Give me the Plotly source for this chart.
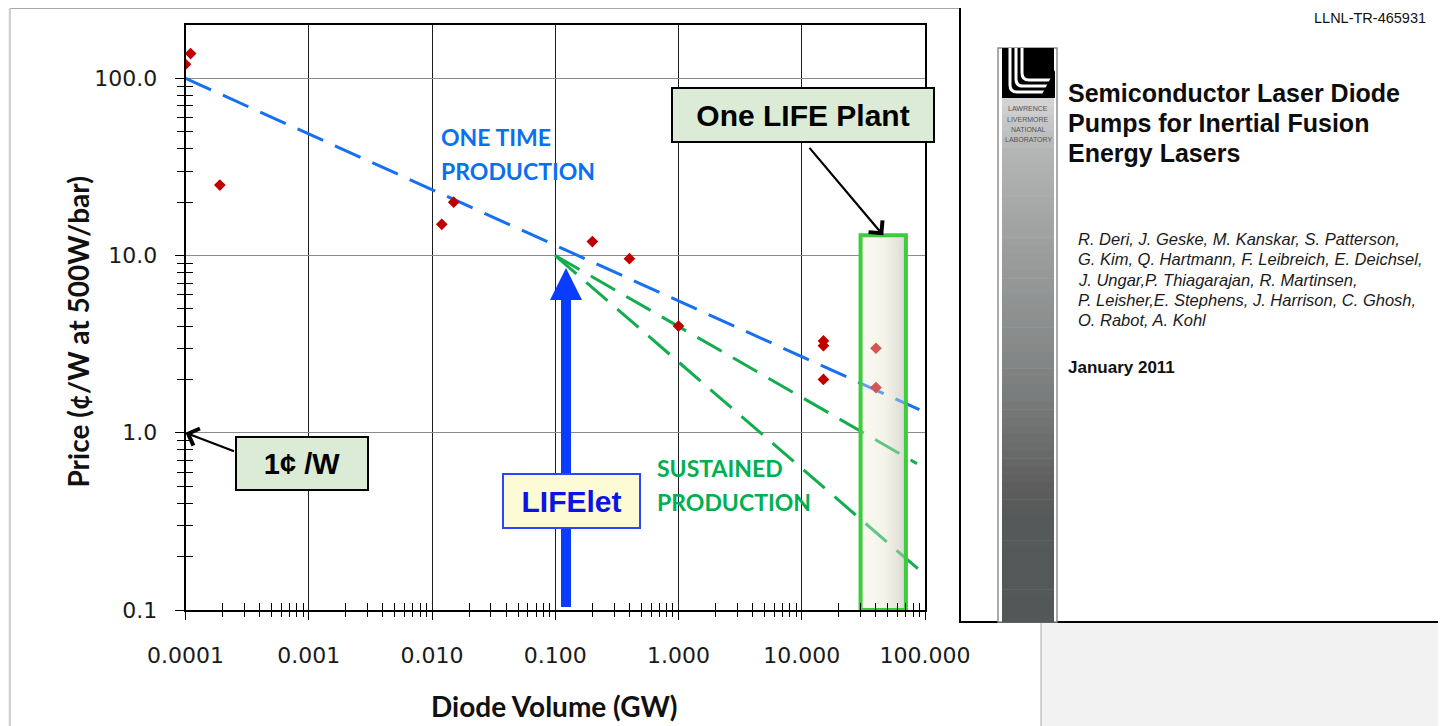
import numpy as np
import plotly.graph_objects as go

# ---------------- data ----------------
VOLUME_GW = [0.0001, 0.00011, 0.00019, 0.012, 0.015, 0.2, 0.4, 1.0, 15, 15, 15, 40, 40]
PRICE_C_PER_W = [120, 138, 25, 15, 20, 12, 9.6, 4.0, 3.3, 3.1, 2.0, 3.0, 1.8]

ONE_TIME_GW = [0.0001, 90]
ONE_TIME_PRICE = [100, 1.35]
SUSTAINED_SLOW_GW = [0.1, 86]
SUSTAINED_SLOW_PRICE = [10, 0.67]
SUSTAINED_FAST_GW = [0.1, 100]
SUSTAINED_FAST_PRICE = [10, 0.158]

PLANT_GW = [30, 70]
PLANT_PRICE = [0.1, 13]

X_TICK_VALS = [0.0001, 0.001, 0.01, 0.1, 1, 10, 100]
X_TICK_TEXT = ["0.0001", "0.001", "0.010", "0.100", "1.000", "10.000", "100.000"]
Y_TICK_VALS = [0.1, 1, 10, 100]
Y_TICK_TEXT = ["0.1", "1.0", "10.0", "100.0"]

REPORT_ID = "LLNL-TR-465931"
REPORT_TITLE = ["Semiconductor Laser Diode", "Pumps for Inertial Fusion", "Energy Lasers"]
REPORT_AUTHORS = [
    "R. Deri, J. Geske, M. Kanskar, S. Patterson,",
    "G. Kim, Q. Hartmann, F. Leibreich, E. Deichsel,",
    "J. Ungar,P. Thiagarajan, R. Martinsen,",
    "P. Leisher,E. Stephens, J. Harrison, C. Ghosh,",
    "O. Rabot, A. Kohl",
]
REPORT_DATE = "January 2011"
LAB_NAME = ["LAWRENCE", "LIVERMORE", "NATIONAL", "LABORATORY"]

# ---------------- layout helpers ----------------
# the page body adds an 8px margin, so the figure is drawn 8px smaller and
# all screen positions are shifted by that amount
OFF = 8
W, H = 1446 - OFF, 726 - OFF
PLOT_L, PLOT_R, PLOT_T, PLOT_B = 185.5, 925.0, 25.0, 610.0


def px(x):
    return (x - OFF) / W


def py(y):
    return 1 - (y - OFF) / H


BLUE = "#1670f0"
GREEN = "#12ad4c"
RED = "#c00000"
LABEL_FONT = "Lato, Open Sans, sans-serif"
ARIAL = "Liberation Sans, Arial, sans-serif"
TICK_FONT = "DejaVu Sans, Liberation Sans, sans-serif"

x_minor = [m * 10.0 ** k for k in range(-4, 2) for m in range(2, 10)]
y_minor = [m * 10.0 ** k for k in range(-1, 2) for m in range(2, 10)]

fig = go.Figure()

box_x = [PLANT_GW[0], PLANT_GW[1], PLANT_GW[1], PLANT_GW[0], PLANT_GW[0]]
box_y = [PLANT_PRICE[0], PLANT_PRICE[0], PLANT_PRICE[1], PLANT_PRICE[1], PLANT_PRICE[0]]

# opaque base of the "one plant" column (hides the grid)
fig.add_trace(go.Scatter(
    x=box_x, y=box_y, mode="none", fill="toself",
    fillgradient=dict(type="horizontal",
                      colorscale=[[0, "rgb(251,251,243)"], [0.55, "rgb(243,243,233)"],
                                  [1, "rgb(218,218,210)"]]),
    hoverinfo="skip", showlegend=False))

fig.add_trace(go.Scatter(x=ONE_TIME_GW, y=ONE_TIME_PRICE, mode="lines",
                         line=dict(color=BLUE, width=3, dash="28px,13px"),
                         hoverinfo="skip", showlegend=False))
fig.add_trace(go.Scatter(x=SUSTAINED_SLOW_GW, y=SUSTAINED_SLOW_PRICE, mode="lines",
                         line=dict(color=GREEN, width=3, dash="28px,13px"),
                         hoverinfo="skip", showlegend=False))
fig.add_trace(go.Scatter(x=SUSTAINED_FAST_GW, y=SUSTAINED_FAST_PRICE, mode="lines",
                         line=dict(color=GREEN, width=3, dash="28px,13px"),
                         hoverinfo="skip", showlegend=False))
fig.add_trace(go.Scatter(x=VOLUME_GW, y=PRICE_C_PER_W, mode="markers",
                         marker=dict(symbol="diamond", size=9, color=RED, line=dict(width=0)),
                         hoverinfo="skip", showlegend=False))

# translucent veil of the column over lines and points
fig.add_trace(go.Scatter(
    x=box_x, y=box_y, mode="none", fill="toself",
    fillgradient=dict(type="horizontal",
                      colorscale=[[0, "rgba(251,251,243,0.35)"], [0.55, "rgba(243,243,233,0.35)"],
                                  [1, "rgba(218,218,210,0.45)"]]),
    hoverinfo="skip", showlegend=False))
fig.add_trace(go.Scatter(x=box_x, y=box_y, mode="lines",
                         line=dict(color="#3ccc3c", width=4),
                         hoverinfo="skip", showlegend=False))

# empty trace on overlay axes (used for the inner half of the crossing minor ticks)
fig.add_trace(go.Scatter(x=[], y=[], xaxis="x2", yaxis="y2", showlegend=False))

x_dom = [px(PLOT_L), px(PLOT_R)]
y_dom = [py(PLOT_B), py(PLOT_T)]
x_range = [-4, 2]
y_range = [-1, float(np.log10(200))]

fig.update_layout(
    width=W, height=H, autosize=False,
    margin=dict(l=0, r=0, t=0, b=0, pad=0, autoexpand=False),
    paper_bgcolor="#f2f2f2", plot_bgcolor="white",
    showlegend=False, hovermode=False,
    xaxis=dict(type="log", range=x_range, domain=x_dom, anchor="y", automargin=False,
               showline=True, linecolor="black", linewidth=1.5, mirror=True,
               showgrid=True, gridcolor="#1e1e1e", gridwidth=1, zeroline=False,
               tickmode="array", tickvals=X_TICK_VALS, ticktext=X_TICK_TEXT,
               ticks="outside", ticklen=8, tickwidth=1.3, tickcolor="black",
               minor=dict(tickmode="array", tickvals=x_minor, ticks="outside", ticklen=5,
                          tickwidth=1.2, tickcolor="black", showgrid=False),
               tickfont=dict(family=TICK_FONT, size=22, color="#1a1a1a"),
               ticklabelstandoff=17, fixedrange=True),
    yaxis=dict(type="log", range=y_range, domain=y_dom, anchor="x", automargin=False,
               showline=True, linecolor="black", linewidth=1.5, mirror=True,
               showgrid=True, gridcolor="#8a8a8a", gridwidth=1, zeroline=False,
               tickmode="array", tickvals=Y_TICK_VALS, ticktext=Y_TICK_TEXT,
               ticks="outside", ticklen=9, tickwidth=1.3, tickcolor="black",
               minor=dict(tickmode="array", tickvals=y_minor, ticks="outside", ticklen=7,
                          tickwidth=1.2, tickcolor="black", showgrid=False),
               tickfont=dict(family=TICK_FONT, size=22, color="#1a1a1a"),
               ticklabelstandoff=13, fixedrange=True),
    xaxis2=dict(type="log", range=x_range, overlaying="x", anchor="y2", automargin=False,
                showline=False, showgrid=False, zeroline=False, showticklabels=False,
                tickmode="array", tickvals=X_TICK_VALS, ticks="",
                minor=dict(tickmode="array", tickvals=x_minor, ticks="inside", ticklen=7,
                           tickwidth=1.2, tickcolor="black", showgrid=False),
                fixedrange=True),
    yaxis2=dict(type="log", range=y_range, overlaying="y", anchor="x2", automargin=False,
                showline=False, showgrid=False, zeroline=False, showticklabels=False,
                tickmode="array", tickvals=Y_TICK_VALS, ticks="",
                minor=dict(tickmode="array", tickvals=y_minor, ticks="inside", ticklen=7,
                           tickwidth=1.2, tickcolor="black", showgrid=False),
                fixedrange=True),
)

shapes = []
# slide background
shapes.append(dict(type="rect", xref="paper", yref="paper", layer="below",
                   x0=px(10), x1=px(1041), y0=py(760), y1=py(8.5),
                   fillcolor="white", line=dict(color="#a8a8a8", width=1)))

# LIFElet arrow
arrow_path = (f"M{px(561)},{py(607)} L{px(571)},{py(607)} L{px(571)},{py(300)} "
              f"L{px(582)},{py(300)} L{px(566)},{py(268)} L{px(550)},{py(300)} "
              f"L{px(561)},{py(300)} Z")
shapes.append(dict(type="path", xref="paper", yref="paper", layer="above", path=arrow_path,
                   fillcolor="#0a3cff", line=dict(width=0)))

# report cover inset
shapes.append(dict(type="rect", xref="paper", yref="paper", layer="above",
                   x0=px(960), x1=px(1460), y0=py(622), y1=py(-10),
                   fillcolor="white", line=dict(color="black", width=2)))
shapes.append(dict(type="rect", xref="paper", yref="paper", layer="above",
                   x0=px(998), x1=px(1057), y0=py(622), y1=py(48),
                   fillcolor="white", line=dict(color="#8e8e8e", width=1.5)))

stops_y = [98, 150, 250, 350, 430, 490, 525, 622]
stops_c = [(214, 214, 214), (180, 181, 181), (156, 158, 158), (134, 137, 137),
           (112, 114, 114), (92, 92, 92), (84, 89, 89), (82, 88, 88)]
n_strips = 64
edges = np.linspace(98, 622, n_strips + 1)
for i in range(n_strips):
    mid = 0.5 * (edges[i] + edges[i + 1])
    rgb = [int(round(np.interp(mid, stops_y, [c[j] for c in stops_c]))) for j in range(3)]
    shapes.append(dict(type="rect", xref="paper", yref="paper", layer="above",
                       x0=px(1002), x1=px(1054), y0=py(edges[i + 1] + 0.6), y1=py(edges[i]),
                       fillcolor=f"rgb({rgb[0]},{rgb[1]},{rgb[2]})", line=dict(width=0)))

# logo
shapes.append(dict(type="rect", xref="paper", yref="paper", layer="above",
                   x0=px(1002), x1=px(1054), y0=py(98), y1=py(48),
                   fillcolor="black", line=dict(width=0)))
for vx, hy, hx_end in [(1010, 92, 1046), (1016, 86, 1050), (1022, 80, 1054)]:
    p = (f"M{px(vx)},{py(48)} L{px(vx)},{py(hy - 7)} "
         f"Q{px(vx)},{py(hy)} {px(vx + 7)},{py(hy)} L{px(hx_end)},{py(hy)}")
    shapes.append(dict(type="path", xref="paper", yref="paper", layer="above", path=p,
                       line=dict(color="white", width=3)))
cut = f"M{px(1055)},{py(70)} L{px(1055)},{py(98)} L{px(1040)},{py(98)} Z"
shapes.append(dict(type="path", xref="paper", yref="paper", layer="above", path=cut,
                   fillcolor="black", line=dict(width=0)))

fig.update_layout(shapes=shapes)

ann = []


def text(x, y, s, size, color="#111", family=LABEL_FONT, xanchor="left", angle=0):
    ann.append(dict(xref="paper", yref="paper", x=px(x), y=py(y), text=s, showarrow=False,
                    xanchor=xanchor, yanchor="middle", textangle=angle,
                    font=dict(family=family, size=size, color=color)))


def box(cx, cy, w, h, s, size, fg, bg, border):
    ann.append(dict(xref="paper", yref="paper", x=px(cx), y=py(cy), text=s, showarrow=False,
                    xanchor="center", yanchor="middle", width=w - 2, height=h - 2,
                    bgcolor=bg, bordercolor=border, borderwidth=2, borderpad=0,
                    align="center", valign="middle",
                    font=dict(family=ARIAL, size=size, color=fg)))


text(439, 137, "<b>ONE TIME</b>", 23, "#0a70f0")
text(439, 171, "<b>PRODUCTION</b>", 23, "#0a70f0")
text(655, 468, "<b>SUSTAINED</b>", 23, "#00b050")
text(655, 502, "<b>PRODUCTION</b>", 23, "#00b050")

# arrows (annotation-only)
plant_mid_gw = float(np.log10(np.sqrt(PLANT_GW[0] * PLANT_GW[1])))
ann.append(dict(xref="x", yref="y", x=plant_mid_gw, y=float(np.log10(PLANT_PRICE[1])),
                ax=-75, ay=-89, text="", showarrow=True, arrowhead=4, arrowsize=1.6,
                arrowwidth=2.2, arrowcolor="black"))
ann.append(dict(xref="x", yref="y", x=-4, y=0, ax=50, ay=19, text="", showarrow=True,
                arrowhead=4, arrowsize=1.6, arrowwidth=2.2, arrowcolor="black"))

box(803, 115, 262, 54, "<b>One LIFE Plant</b>", 30, "black", "#dcebd6", "black")
box(302, 463.5, 132, 53, "<b>1¢ /W</b>", 29, "black", "#dcebd6", "black")
box(571.5, 501, 137, 54, "<b>LIFElet</b>", 30, "#0a14e6", "#fdfad6", "#2a45ff")

# axis titles
text(554, 706, "<b>Diode Volume (GW)</b>", 28, "#111", xanchor="center")
text(77.5, 332, "<b>Price (¢/W at 500W/bar)</b>", 28, "#111", xanchor="center", angle=-90)

# report cover texts
text(1428, 18, REPORT_ID, 14.5, "#111", family=ARIAL, xanchor="right")
for i, line in enumerate(REPORT_TITLE):
    text(1066, [93, 122.5, 153][i], f"<b>{line}</b>", 25, "#0d0d0d", family=ARIAL)
for i, line in enumerate(REPORT_AUTHORS):
    text(1076, 239 + 20.3 * i, f"<i>{line}</i>", 16.5, "#1a1a1a", family=ARIAL)
text(1066, 367, f"<b>{REPORT_DATE}</b>", 17, "#111", family=ARIAL)
for i, line in enumerate(LAB_NAME):
    text(1028, [109, 119, 129.5, 139][i], line, 7, "#555", family=ARIAL, xanchor="center")

fig.update_layout(annotations=ann)

fig.write_html("out.html")
